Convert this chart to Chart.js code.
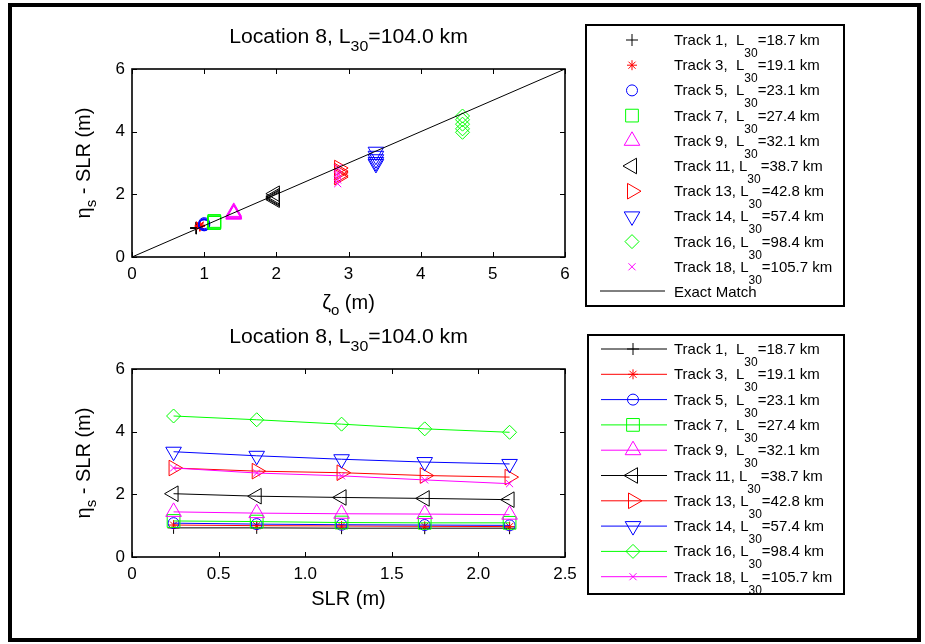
<!DOCTYPE html>
<html>
<head>
<meta charset="utf-8">
<title>Location 8</title>
<script src="https://cdn.jsdelivr.net/npm/chart.js@4.4.1/dist/chart.umd.min.js"></script>
<style>
	html, body { margin: 0; padding: 0; background: #fff; }
	#figure { position: relative; width: 925px; height: 644px; overflow: hidden; background: #fff; }
	#figure canvas { position: absolute; left: 0; }
	#scatter { top: 0; }
	#profile { top: 322px; }
	#frame { position: absolute; left: 8px; top: 3px; width: 905px; height: 631px; border: 4px solid #000; pointer-events: none; }
</style>
</head>
<body>
<div id="figure">
	<canvas id="scatter" width="925" height="322"></canvas>
	<canvas id="profile" width="925" height="322"></canvas>
	<div id="frame"></div>
</div>
<script>
"use strict";

/********/
/* data */
/********/
const locationL30 = "104.0";
const trackIds = [1, 3, 5, 7, 9, 11, 13, 14, 16, 18];
const trackL30 = ["18.7", "19.1", "23.1", "27.4", "32.1", "38.7", "42.8", "57.4", "98.4", "105.7"];
// sea level rise scenarios (m)
const slr = [0.24, 0.72, 1.21, 1.69, 2.18];
// surge with no sea level rise, one per track (m)
const zetaO = [0.89, 0.94, 1.00, 1.14, 1.41, 1.98, 2.87, 3.38, 4.58, 2.85];
// eta_s - SLR at each slr scenario (m)
const track1 = [0.93, 0.93, 0.92, 0.92, 0.92];
const track3 = [1.02, 1.00, 0.99, 0.98, 0.97];
const track5 = [1.08, 1.05, 1.03, 1.02, 1.01];
const track7 = [1.15, 1.13, 1.10, 1.09, 1.09];
const track9 = [1.44, 1.40, 1.38, 1.37, 1.35];
const track11 = [2.02, 1.94, 1.90, 1.87, 1.83];
const track13 = [2.84, 2.74, 2.69, 2.60, 2.55];
const track14 = [3.36, 3.23, 3.12, 3.03, 2.97];
const track16 = [4.50, 4.38, 4.24, 4.09, 3.98];
const track18 = [2.84, 2.68, 2.59, 2.46, 2.34];
const trackEta = [track1, track3, track5, track7, track9, track11, track13, track14, track16, track18];
// 1:1 reference line
const exactMatch = [0, 6];
// tick labels
const zetaTicks = [0, 1, 2, 3, 4, 5, 6];
const slrTicks = [0, 0.5, 1, 1.5, 2, 2.5];
const etaTicks = [0, 2, 4, 6];

/**********/
/* styles */
/**********/
const FONT = "'Liberation Sans', Arial, Helvetica, sans-serif";
const trackColors = ["#000000", "#ff0000", "#0000ff", "#00ff00", "#ff00ff",
	"#000000", "#ff0000", "#0000ff", "#00ff00", "#ff00ff"];
const trackMarkers = [
	{ style: "cross", radius: 6, rotation: 0 },
	{ style: "star", radius: 5, rotation: 0 },
	{ style: "circle", radius: 5.5, rotation: 0 },
	{ style: "rect", radius: 9, rotation: 0 },
	{ style: "triangle", radius: 9, rotation: 0 },
	{ style: "triangle", radius: 9, rotation: -90 },
	{ style: "triangle", radius: 9, rotation: 90 },
	{ style: "triangle", radius: 9, rotation: 180 },
	{ style: "rectRot", radius: 7, rotation: 0 },
	{ style: "crossRot", radius: 5, rotation: 0 }
];

/***********/
/* methods */
/***********/
function font(size) {
	return size + "px " + FONT;
}

function drawRich(ctx, parts, x, y, o) {
	/* draw a run of text with subscripts; parts is [[text, isSub], ...] */
	const stretch = o.stretch || 1;
	const widths = parts.map(p => {
		ctx.font = font(p[1] ? o.sub : o.size);
		return ctx.measureText(p[0]).width;
	});
	const total = widths.reduce((a, b) => a + b, 0) * stretch;
	ctx.save();
	ctx.translate(o.align === "center" ? x - total / 2 : x, y);
	ctx.scale(stretch, 1);
	ctx.fillStyle = "#000";
	ctx.textBaseline = "alphabetic";
	ctx.textAlign = "left";
	let pos = 0;
	parts.forEach((p, i) => {
		ctx.font = font(p[1] ? o.sub : o.size);
		ctx.fillText(p[0], pos, p[1] ? o.shift : 0);
		pos += widths[i];
	});
	ctx.restore();
}

function markerOptions(i) {
	const m = trackMarkers[i];
	return {
		borderColor: trackColors[i],
		backgroundColor: "rgba(0,0,0,0)",
		pointBackgroundColor: "rgba(0,0,0,0)",
		pointStyle: m.style,
		pointRadius: m.radius,
		pointRotation: m.rotation,
		pointBorderWidth: 1,
		borderWidth: 1
	};
}

function drawMarker(ctx, i, x, y) {
	const m = trackMarkers[i];
	ctx.save();
	ctx.strokeStyle = trackColors[i];
	ctx.fillStyle = "rgba(0,0,0,0)";
	ctx.lineWidth = 1;
	if (Chart.helpers && Chart.helpers.drawPoint) {
		Chart.helpers.drawPoint(ctx, { pointStyle: m.style, radius: m.radius, rotation: m.rotation, borderWidth: 1 }, x, y);
	} else {
		ctx.beginPath();
		ctx.arc(x, y, m.radius, 0, Math.PI * 2);
		ctx.stroke();
	}
	ctx.restore();
}

function trackLabel(i) {
	// single digit tracks get an extra space so the L lines up
	const gap = trackIds[i] < 10 ? ",  L" : ", L";
	return [["Track " + trackIds[i] + gap, 0], ["30", 1], ["=" + trackL30[i] + " km", 0]];
}

function drawLegend(ctx, lg) {
	ctx.save();
	ctx.fillStyle = "#fff";
	ctx.fillRect(lg.x, lg.y, lg.w, lg.h);
	ctx.strokeStyle = "#000";
	ctx.lineWidth = 2;
	ctx.strokeRect(lg.x, lg.y, lg.w, lg.h);
	ctx.restore();
	const textOpts = { size: 15, sub: 12, shift: 12 };
	trackIds.forEach((id, i) => {
		const base = lg.first + i * lg.pitch;
		if (lg.lines) {
			ctx.save();
			ctx.strokeStyle = trackColors[i];
			ctx.lineWidth = 1;
			ctx.beginPath();
			ctx.moveTo(lg.lineX0, base - 5);
			ctx.lineTo(lg.lineX1, base - 5);
			ctx.stroke();
			ctx.restore();
		}
		drawMarker(ctx, i, lg.markerX, base - 5);
		drawRich(ctx, trackLabel(i), lg.textX, base, textOpts);
	});
	if (lg.extra) {
		// the reference line entry
		const base = lg.first + trackIds.length * lg.pitch;
		ctx.save();
		ctx.strokeStyle = "#000";
		ctx.lineWidth = 1;
		ctx.beginPath();
		ctx.moveTo(lg.lineX0, base - 6);
		ctx.lineTo(lg.lineX1, base - 6);
		ctx.stroke();
		ctx.restore();
		drawRich(ctx, [[lg.extra, 0]], lg.textX, base, textOpts);
	}
}

function drawAxesBox(chart) {
	/* matlab style box with inward ticks on all four sides */
	const ctx = chart.ctx;
	const a = chart.chartArea;
	const xs = chart.scales.x;
	const ys = chart.scales.y;
	const len = 5;
	ctx.save();
	ctx.strokeStyle = "#000";
	ctx.lineWidth = 1;
	ctx.beginPath();
	xs.ticks.forEach(t => {
		const px = Math.round(xs.getPixelForValue(t.value)) + 0.5;
		ctx.moveTo(px, a.bottom);
		ctx.lineTo(px, a.bottom - len);
		ctx.moveTo(px, a.top);
		ctx.lineTo(px, a.top + len);
	});
	ys.ticks.forEach(t => {
		const py = Math.round(ys.getPixelForValue(t.value)) + 0.5;
		ctx.moveTo(a.left, py);
		ctx.lineTo(a.left + len, py);
		ctx.moveTo(a.right, py);
		ctx.lineTo(a.right - len, py);
	});
	ctx.stroke();
	ctx.lineWidth = 1.6;
	ctx.strokeRect(a.left, a.top, a.right - a.left, a.bottom - a.top);
	ctx.restore();
}

function decorations(cfg) {
	return {
		id: "decorations",
		afterDraw(chart) {
			const ctx = chart.ctx;
			const a = chart.chartArea;
			const mid = (a.left + a.right) / 2;
			drawAxesBox(chart);
			// title
			drawRich(ctx, [["Location 8, L", 0], ["30", 1], ["=" + locationL30 + " km", 0]],
				mid, cfg.titleY, { size: 20, sub: 15, shift: 8, align: "center", stretch: 1.06 });
			// x label
			drawRich(ctx, cfg.xLabel, mid, cfg.xLabelY, { size: 20, sub: 15, shift: 6, align: "center" });
			// y label, rotated
			ctx.save();
			ctx.translate(cfg.yLabelX, (a.top + a.bottom) / 2);
			ctx.rotate(-Math.PI / 2);
			drawRich(ctx, [["\u03b7", 0], ["s", 1], [" - SLR (m)", 0]], 0, 0,
				{ size: 20, sub: 15, shift: 6, align: "center" });
			ctx.restore();
			drawLegend(ctx, cfg.legend);
		}
	};
}

function axis(ticks, fit) {
	return {
		type: "linear",
		min: ticks[0],
		max: ticks[ticks.length - 1],
		afterBuildTicks: scale => {
			scale.ticks = ticks.map(v => ({ value: v }));
		},
		afterFit: fit,
		grid: { display: false, drawTicks: false },
		border: { display: false },
		ticks: {
			color: "#000",
			font: { size: 17, family: FONT },
			padding: 7,
			maxRotation: 0,
			autoSkip: false
		}
	};
}

function buildChart(id, datasets, xTicks, padding, cfg) {
	const ctx = document.getElementById(id).getContext("2d");
	return new Chart(ctx, {
		type: "scatter",
		data: { datasets: datasets },
		options: {
			responsive: false,
			animation: false,
			devicePixelRatio: 1,
			events: [],
			layout: { padding: padding },
			plugins: { legend: { display: false }, tooltip: { enabled: false } },
			scales: {
				x: axis(xTicks, scale => { scale.height = 40; }),
				y: axis(etaTicks, scale => { scale.width = 132; })
			}
		},
		plugins: [decorations(cfg)]
	});
}

function scatterDatasets() {
	// one stack of markers per track at its no-slr surge
	const sets = trackIds.map((id, i) => Object.assign({
		label: "Track " + id,
		data: slr.map((s, k) => ({ x: zetaO[i], y: trackEta[i][k] })),
		showLine: false,
		order: trackIds.length - i
	}, markerOptions(i)));
	sets.push({
		label: "Exact Match",
		data: exactMatch.map(v => ({ x: v, y: v })),
		showLine: true,
		borderColor: "#000",
		borderWidth: 1,
		pointRadius: 0,
		order: 0
	});
	return sets;
}

function profileDatasets() {
	// each track drawn against slr
	return trackIds.map((id, i) => Object.assign({
		label: "Track " + id,
		data: slr.map((s, k) => ({ x: s, y: trackEta[i][k] })),
		showLine: true,
		order: trackIds.length - i
	}, markerOptions(i)));
}

/********/
/* MAIN */
/********/
(function main() {
	buildChart("scatter", scatterDatasets(), zetaTicks,
		{ left: 0, right: 360, top: 69, bottom: 25 },
		{
			titleY: 43,
			xLabel: [["\u03b6", 0], ["o", 1], [" (m)", 0]],
			xLabelY: 309,
			yLabelX: 90,
			legend: { x: 586, y: 25, w: 258, h: 281, first: 45, pitch: 25.2,
				markerX: 632, textX: 674, lineX0: 600, lineX1: 665, lines: false, extra: "Exact Match" }
		});
	buildChart("profile", profileDatasets(), slrTicks,
		{ left: 0, right: 360, top: 47, bottom: 47 },
		{
			titleY: 21,
			xLabel: [["SLR (m)", 0]],
			xLabelY: 283,
			yLabelX: 90,
			legend: { x: 588, y: 13, w: 256, h: 259, first: 32, pitch: 25.3,
				markerX: 633, textX: 674, lineX0: 601, lineX1: 667, lines: true, extra: null }
		});
})();
</script>
</body>
</html>
